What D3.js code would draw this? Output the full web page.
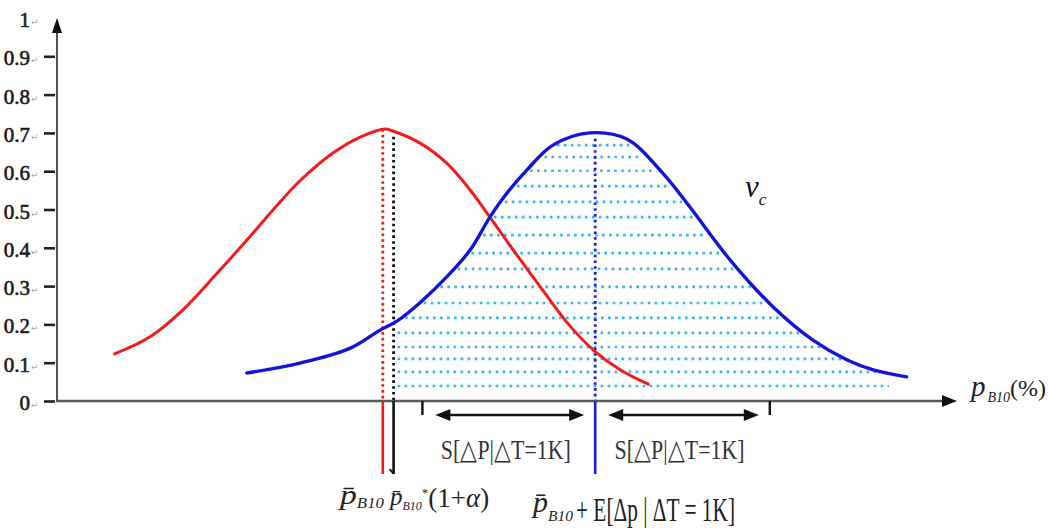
<!DOCTYPE html>
<html><head><meta charset="utf-8">
<script src="https://cdn.jsdelivr.net/npm/d3@7"></script>
<style>body{margin:0;background:#fff} svg{display:block}</style>
</head><body>
<svg id="c" width="1048" height="528"></svg>
<script>
// ---------- data ----------
const yTickValues = [0, 0.1, 0.2, 0.3, 0.4, 0.5, 0.6, 0.7, 0.8, 0.9];
const yLabelValues = [0, 0.1, 0.2, 0.3, 0.4, 0.5, 0.6, 0.7, 0.8, 0.9, 1];
const yLabelTexts = ["0", "0.1", "0.2", "0.3", "0.4", "0.5", "0.6", "0.7", "0.8", "0.9", "1"];

// red density (baseline distribution)
const redX = [6.4, 10.3, 14.0, 17.8, 21.4, 24.0, 27.0, 30.7, 33.7, 36.4, 37.3, 40.3, 43.3, 45.9, 48.1, 50.7, 53.7, 56.7, 59.6, 62.6, 65.7];
const redY = [0.123, 0.167, 0.238, 0.334, 0.428, 0.499, 0.575, 0.648, 0.689, 0.710, 0.705, 0.674, 0.621, 0.551, 0.480, 0.394, 0.298, 0.204, 0.133, 0.081, 0.044];

// blue density (shifted distribution)
const blueX = [21.1, 27.0, 32.6, 35.9, 37.8, 40.3, 43.3, 45.9, 48.1, 50.0, 52.2, 55.1, 59.2, 63.3, 67.3, 70.3, 74.8, 79.6, 84.0, 87.8, 90.7, 94.4];
const blueY = [0.073, 0.099, 0.138, 0.185, 0.209, 0.256, 0.324, 0.394, 0.480, 0.543, 0.603, 0.668, 0.700, 0.684, 0.595, 0.507, 0.368, 0.245, 0.159, 0.107, 0.081, 0.063];

// dotted hatch levels under the blue curve
const hatchLevels = [0.039, 0.076, 0.110, 0.141, 0.178, 0.217, 0.256, 0.298, 0.345, 0.386, 0.433, 0.480, 0.520, 0.561, 0.601, 0.637, 0.668];

// reference positions on the p axis and the heights of their dotted markers
const markerNames = ["mean", "threshold", "shifted"];
const markerX = [36.2, 37.4, 59.8];
const markerTop = [0.71, 0.69, 0.685];
const sdTickX = [40.6, 79.2];
const sdLabel = "S[△P|△T=1K]";

// ---------- drawing ----------
const svg = d3.select("#c");
const x = d3.scaleLinear().domain([0, 100]).range([57, 957]);
const y = d3.scaleLinear().domain([0, 1]).range([401, 18]);
const serif = "'Liberation Serif','Times New Roman',serif";
const RED = "#f01c1c", BLUE = "#1414d8", BLACK = "#111", HATCH = "#35b6ea";
const markerColor = [RED, BLACK, "#2020c8"];
const markerLineColor = [RED, BLACK, "#1a1ae0"];

// hatch: horizontal dotted lines clipped between threshold line and blue curve
function crossings(level) {
  let left = null, right = null;
  for (let i = 0; i < blueX.length - 1; i++) {
    const a = blueY[i], b = blueY[i + 1];
    if ((a - level) * (b - level) <= 0 && a !== b) {
      const t = (level - a) / (b - a);
      const cx = blueX[i] + t * (blueX[i + 1] - blueX[i]);
      if (b > a && left === null) left = cx;
      if (b < a) right = cx;
    }
  }
  if (left === null) left = blueX[0];
  if (right === null) right = blueX[blueX.length - 1] - 1.5;
  return [Math.max(left, markerX[1]), right];
}
svg.append("g").selectAll("line").data(hatchLevels).join("line")
  .attr("x1", d => x(crossings(d)[0]) + 4)
  .attr("x2", d => x(crossings(d)[1]) - 4)
  .attr("y1", d => y(d)).attr("y2", d => y(d))
  .attr("stroke", HATCH).attr("stroke-width", 2.6)
  .attr("stroke-dasharray", "2.6 4.4");

// vertical dotted markers above axis
svg.append("g").selectAll("line").data(markerX).join("line")
  .attr("x1", d => x(d)).attr("x2", d => x(d))
  .attr("y1", (d, i) => y(markerTop[i])).attr("y2", y(0))
  .attr("stroke", (d, i) => markerColor[i]).attr("stroke-width", 2.8)
  .attr("stroke-dasharray", "2.6 3.2");

// curves
const line = d3.line().x(d => x(d[0])).y(d => y(d[1])).curve(d3.curveCatmullRom.alpha(0.5));
svg.append("path").datum(redX.map((v, i) => [v, redY[i]]))
  .attr("d", line).attr("fill", "none").attr("stroke", RED).attr("stroke-width", 3)
  .attr("stroke-linecap", "round");
svg.append("path").datum(blueX.map((v, i) => [v, blueY[i]]))
  .attr("d", line).attr("fill", "none").attr("stroke", BLUE).attr("stroke-width", 3.4)
  .attr("stroke-linecap", "round");

// y axis
const yAxis = d3.axisLeft(y).tickValues(yTickValues).tickSize(11).tickFormat("");
const gy = svg.append("g").attr("transform", "translate(55,0)").call(yAxis);
gy.select(".domain").remove();
gy.selectAll(".tick line").attr("stroke", "#222").attr("stroke-width", 2.6);
svg.append("line").attr("x1", x(0)).attr("x2", x(0)).attr("y1", y(0) + 1).attr("y2", y(1) + 10)
  .attr("stroke", "#555").attr("stroke-width", 2);
svg.append("path").attr("d", `M${x(0)},${y(1)} L${x(0) - 5},${y(1) + 15} L${x(0) + 5},${y(1) + 15} Z`).attr("fill", "#111");

const yl = svg.append("g");
yl.selectAll("text.v").data(yLabelValues).join("text").attr("class", "v")
  .attr("x", 30).attr("y", d => y(d) + 9)
  .attr("text-anchor", "end").attr("font-family", serif).attr("font-size", 21)
  .attr("fill", "#1a1a1a").attr("stroke", "#1a1a1a").attr("stroke-width", 0.6)
  .text((d, i) => yLabelTexts[i]);
yl.selectAll("text.r").data(yLabelValues).join("text").attr("class", "r")
  .attr("x", 31).attr("y", d => y(d) + 7)
  .attr("font-family", "DejaVu Sans").attr("font-size", 9).attr("fill", "#aaa")
  .text("↵");

// x axis with arrow
svg.append("line").attr("x1", x(0)).attr("x2", x(100) - 12).attr("y1", y(0)).attr("y2", y(0))
  .attr("stroke", "#5a5a5a").attr("stroke-width", 2.4);
svg.append("path").attr("d", `M${x(100)},${y(0)} L${x(100) - 15},${y(0) - 6} L${x(100) - 15},${y(0) + 6} Z`).attr("fill", "#111");

// small ticks on x axis
svg.append("g").selectAll("line").data(sdTickX).join("line")
  .attr("x1", d => x(d)).attr("x2", d => x(d)).attr("y1", y(0)).attr("y2", y(0) + 14)
  .attr("stroke", "#111").attr("stroke-width", 2.4);

// solid marker lines below axis
svg.append("g").selectAll("line").data(markerX).join("line")
  .attr("x1", d => x(d)).attr("x2", d => x(d)).attr("y1", y(0)).attr("y2", y(0) + 73)
  .attr("stroke", (d, i) => markerLineColor[i]).attr("stroke-width", 2.6);
svg.append("path").attr("d", `M${x(markerX[1])},${y(0) + 73} L${x(markerX[1]) - 4},${y(0) + 68}`)
  .attr("stroke", BLACK).attr("stroke-width", 2).attr("fill", "none");

// double arrows for S
const spans = [[sdTickX[0], markerX[2]], [markerX[2], sdTickX[1]]];
const ag = svg.append("g");
spans.forEach(([a, b]) => {
  const x1 = x(a) + 13, x2 = x(b) - 11, yy = y(0) + 14;
  ag.append("line").attr("x1", x1 + 8).attr("x2", x2 - 8).attr("y1", yy).attr("y2", yy)
    .attr("stroke", "#111").attr("stroke-width", 2.4);
  ag.append("path").attr("d", `M${x1},${yy} L${x1 + 15},${yy - 6} L${x1 + 15},${yy + 6} Z`).attr("fill", "#111");
  ag.append("path").attr("d", `M${x2},${yy} L${x2 - 15},${yy - 6} L${x2 - 15},${yy + 6} Z`).attr("fill", "#111");
  ag.append("text").attr("x", (x(a) + x(b)) / 2 - 3).attr("y", y(0) + 58)
    .attr("text-anchor", "middle").attr("font-family", serif).attr("font-size", 28)
    .attr("fill", "#333").attr("textLength", 130).attr("lengthAdjust", "spacingAndGlyphs")
    .text(sdLabel);
});

// x axis label
const xl = svg.append("text").attr("x", 971).attr("y", 396).attr("font-family", serif).attr("fill", "#222");
xl.append("tspan").attr("font-style", "italic").attr("font-size", 29).text("p");
xl.append("tspan").attr("font-style", "italic").attr("font-size", 14).attr("dx", 2).attr("dy", 6).text("B10");
xl.append("tspan").attr("font-size", 24).attr("dy", -6).text("(%)");

// v_c label
const vc = svg.append("text").attr("x", 745).attr("y", 197).attr("font-family", serif).attr("fill", "#111");
vc.append("tspan").attr("font-style", "italic").attr("font-size", 31).text("v");
vc.append("tspan").attr("font-style", "italic").attr("font-size", 17).attr("dy", 8).text("c");

// bottom labels
const b1 = svg.append("text").attr("x", 340).attr("y", 504).attr("font-family", serif).attr("fill", "#222")
  .attr("textLength", 44).attr("lengthAdjust", "spacingAndGlyphs");
b1.append("tspan").attr("font-style", "italic").attr("font-size", 28).text("p\u0304");
b1.append("tspan").attr("font-style", "italic").attr("font-size", 14).attr("dy", 4).text("B10");

const b2 = svg.append("text").attr("x", 390).attr("y", 505).attr("font-family", serif).attr("fill", "#222");
b2.append("tspan").attr("font-style", "italic").attr("font-size", 25).text("p\u0304");
b2.append("tspan").attr("font-style", "italic").attr("font-size", 12).attr("dy", 5).text("B10");
b2.append("tspan").attr("font-size", 13).attr("dy", -13).text("*");
b2.append("tspan").attr("font-size", 27).attr("dy", 10).text("(1+");
b2.append("tspan").attr("font-size", 27).attr("font-style", "italic").text("α");
b2.append("tspan").attr("font-size", 27).text(")");

const b3 = svg.append("text").attr("x", 533).attr("y", 512).attr("font-family", serif).attr("fill", "#222")
  .attr("textLength", 40).attr("lengthAdjust", "spacingAndGlyphs");
b3.append("tspan").attr("font-style", "italic").attr("font-size", 29).text("p\u0304");
b3.append("tspan").attr("font-style", "italic").attr("font-size", 15).attr("dy", 9).text("B10");

svg.append("text").attr("x", 576).attr("y", 521).attr("font-family", serif).attr("fill", "#222")
  .attr("font-size", 33).attr("textLength", 159).attr("lengthAdjust", "spacingAndGlyphs")
  .text("+ E[Δp | ΔT = 1K]");
</script>
</body></html>
